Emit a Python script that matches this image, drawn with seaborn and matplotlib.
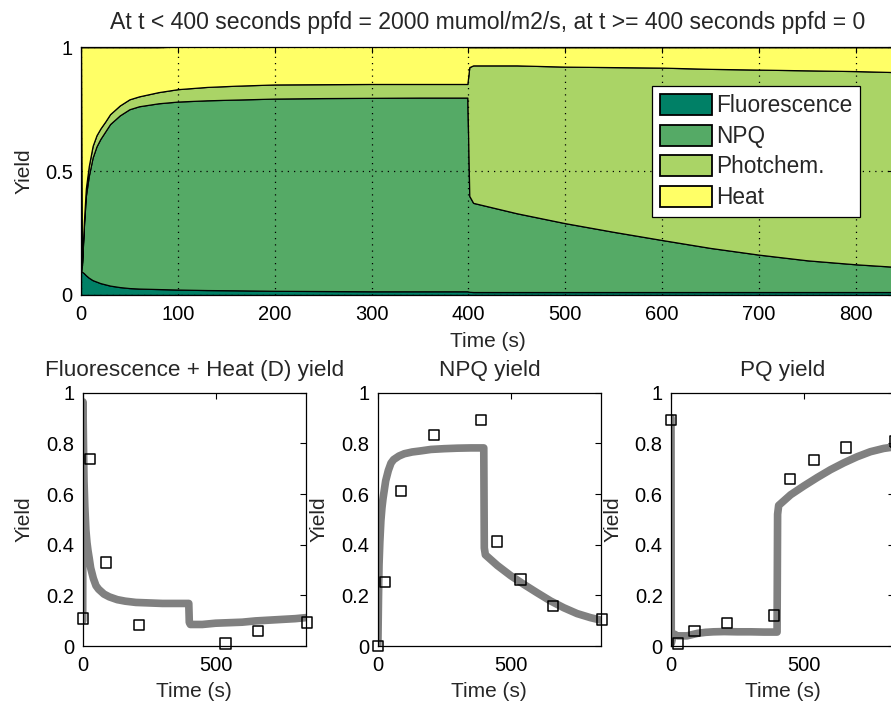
import numpy as np
import pandas as pd
import matplotlib
matplotlib.use("Agg")
import matplotlib.pyplot as plt
import seaborn as sns

sns.set_style("white")
plt.rcParams["font.family"] = ["Liberation Sans", "DejaVu Sans"]
plt.rcParams["font.size"] = 14.5

# ---- model output: yield partitioning over time (s) ----
model_t = [0, 1, 3, 5, 8, 12, 16, 20, 25, 30, 40, 50, 60, 80, 100, 130, 160,
           200, 250, 300, 350, 399, 401, 405, 450, 500, 550, 600, 650, 700,
           750, 800, 840]
fluor = [0.094, 0.094, 0.088, 0.080, 0.070, 0.060, 0.054, 0.048, 0.043, 0.038,
         0.032, 0.028, 0.026, 0.024, 0.022, 0.020, 0.019, 0.017, 0.016, 0.015,
         0.015, 0.015, 0.013, 0.012, 0.012, 0.012, 0.012, 0.012, 0.012, 0.012,
         0.012, 0.012, 0.012]
npq = [0.000, 0.026, 0.190, 0.320, 0.410, 0.495, 0.546, 0.582, 0.617, 0.652,
       0.693, 0.722, 0.736, 0.750, 0.759, 0.766, 0.770, 0.776, 0.779, 0.781,
       0.782, 0.782, 0.387, 0.360, 0.318, 0.278, 0.243, 0.210, 0.178, 0.151,
       0.128, 0.112, 0.102]
photochem = [0.900, 0.010, 0.020, 0.030, 0.040, 0.047, 0.045, 0.042, 0.040,
             0.040, 0.040, 0.040, 0.040, 0.045, 0.050, 0.054, 0.056, 0.057,
             0.056, 0.056, 0.055, 0.055, 0.520, 0.555, 0.597, 0.632, 0.665,
             0.696, 0.723, 0.747, 0.767, 0.780, 0.786]
heat = [0.006, 0.870, 0.702, 0.570, 0.480, 0.398, 0.355, 0.328, 0.300, 0.270,
        0.235, 0.210, 0.198, 0.181, 0.172, 0.163, 0.158, 0.155, 0.154, 0.153,
        0.153, 0.153, 0.080, 0.073, 0.073, 0.078, 0.080, 0.082, 0.087, 0.090,
        0.093, 0.096, 0.100]

layer_names = ["Fluorescence", "NPQ", "Photchem.", "Heat"]
layer_colors = ["#008066", "#55AA66", "#AAD466", "#FFFF66"]

# ---- measured yields ----
meas_t = [0, 27, 88, 211, 388, 448, 537, 659, 843]
meas_d = [0.109, 0.737, 0.330, 0.082, np.nan, np.nan, 0.010, 0.059, 0.093]
meas_npq = [0.000, 0.254, 0.612, 0.833, 0.892, 0.412, 0.263, 0.158, 0.105]
meas_pq = [0.892, 0.010, 0.059, 0.092, 0.120, 0.660, 0.734, 0.784, 0.807]

title_top = "At t < 400 seconds ppfd = 2000 mumol/m2/s, at t >= 400 seconds ppfd = 0"
sub_titles = ["Fluorescence + Heat (D) yield", "NPQ yield", "PQ yield"]

model = pd.DataFrame({"t": model_t, "F": fluor, "NPQ": npq,
                      "PQ": photochem, "Heat": heat})
model["D"] = model["F"] + model["Heat"]
meas = pd.DataFrame({"t": meas_t, "D": meas_d, "NPQ": meas_npq, "PQ": meas_pq})

W, H = 891, 709
fig = plt.figure(figsize=(W / 100, H / 100), dpi=100)


def frac(x0, y_top, x1, y_bot):
    return [x0 / W, 1 - y_bot / H, (x1 - x0) / W, (y_bot - y_top) / H]


# ---- top: stacked yields ----
ax = fig.add_axes(frac(81, 47.3, 894.4, 295))
ax.stackplot(model["t"], model["F"], model["NPQ"], model["PQ"], model["Heat"],
             colors=layer_colors, labels=layer_names,
             edgecolor="black", linewidth=0.9)
ax.set_xlim(0, 840)
ax.set_ylim(0, 1)
ax.set_xticks(range(0, 801, 100))
ax.set_yticks([0, 0.5, 1], ["0", "0.5", "1"])
ax.set_axisbelow(False)
ax.grid(True, color="black", linestyle=(0, (1, 4)), linewidth=0.9)
ax.set_xlabel("Time (s)", labelpad=6, fontsize=15)
ax.set_ylabel("Yield", labelpad=8, fontsize=15)
ax.set_title(title_top, pad=13, fontsize=16.6)
leg = ax.legend(loc="upper left", bbox_to_anchor=(0.7017, 0.844),
                frameon=True, fancybox=False, edgecolor="black",
                framealpha=1, fontsize=16.3, handlelength=2.3,
                handleheight=1.05, handletextpad=0.2, labelspacing=0.33,
                borderpad=0.35, borderaxespad=0)
leg.get_frame().set_linewidth(0.9)
for h in leg.legend_handles:
    h.set_linewidth(1.3)

# ---- bottom: individual yields, model vs measured ----
lefts = [82.7, 377.7, 671]
cols = ["D", "NPQ", "PQ"]
for left, col, ttl in zip(lefts, cols, sub_titles):
    bx = fig.add_axes(frac(left, 392.7, left + 223.3, 646))
    sns.lineplot(data=model, x="t", y=col, ax=bx, color="#808080",
                 linewidth=5.5, sort=False, estimator=None)
    sns.scatterplot(data=meas, x="t", y=col, ax=bx, marker="s", s=55,
                    facecolors="none", edgecolors="black", linewidths=1.1,
                    zorder=5, clip_on=False)
    bx.set_xlim(0, 840)
    bx.set_ylim(0, 1)
    bx.set_xticks([0, 500])
    bx.set_yticks([0, 0.2, 0.4, 0.6, 0.8, 1],
                  ["0", "0.2", "0.4", "0.6", "0.8", "1"])
    bx.set_xlabel("Time (s)", labelpad=5, fontsize=15)
    bx.set_ylabel("Yield", labelpad=9, fontsize=15)
    bx.set_title(ttl, pad=12, fontsize=16.2)

for a in fig.axes:
    a.tick_params(direction="in", length=4, width=0.8, top=True, right=True,
                  labelsize=14.5, colors="black")
    a.tick_params(axis="x", pad=7)
    a.tick_params(axis="y", pad=6)
    for s in a.spines.values():
        s.set_visible(True)
        s.set_color("black")
        s.set_linewidth(0.9)

fig.savefig("out.png", dpi=100, facecolor="white")
